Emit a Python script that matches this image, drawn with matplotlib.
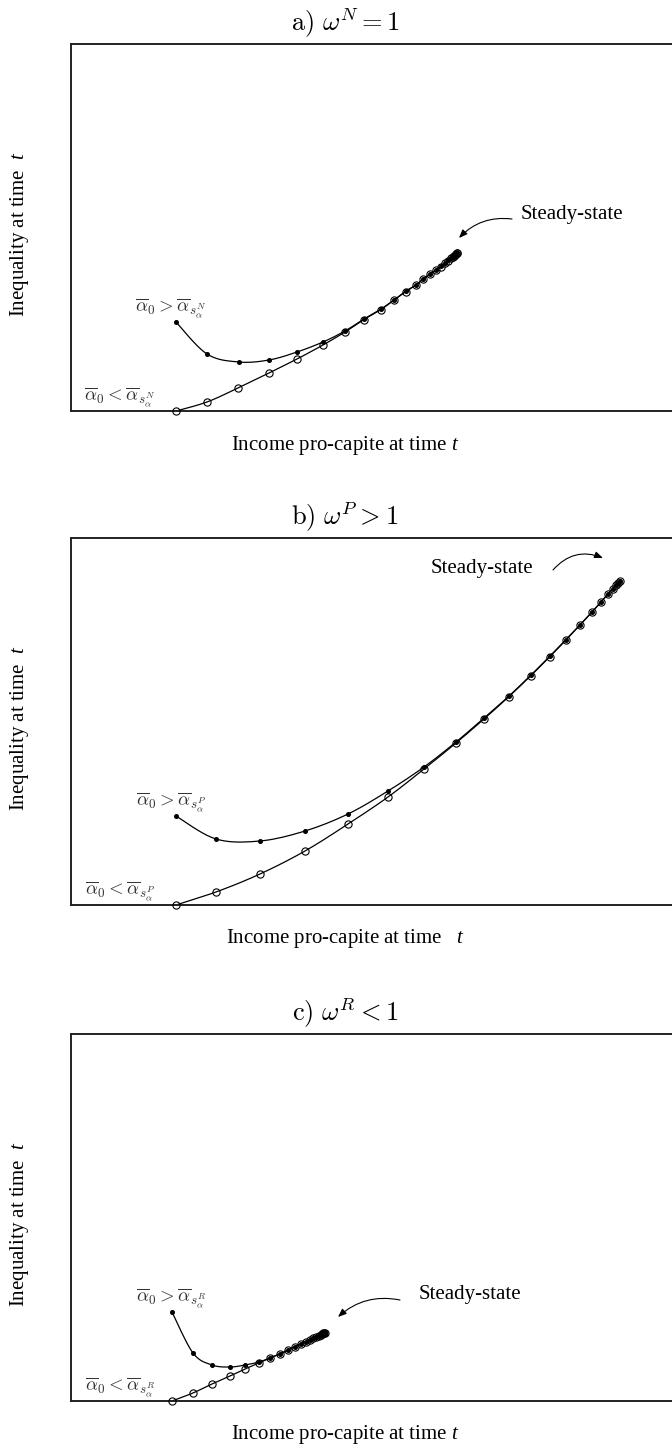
import matplotlib
matplotlib.use("Agg")
import matplotlib.pyplot as plt
import numpy as np

plt.rcParams['font.family'] = ['Liberation Serif', 'DejaVu Serif']
plt.rcParams['mathtext.fontset'] = 'custom'
plt.rcParams['mathtext.rm'] = 'Liberation Serif'
plt.rcParams['mathtext.it'] = 'Liberation Serif:italic'

# ---- data (income, inequality) ----
# panel a) omega^N = 1
a_high_x = [1.05, 1.36, 1.68, 1.98, 2.26, 2.52, 2.74, 2.93, 3.10, 3.23, 3.35, 3.45, 3.52, 3.59, 3.65,
            3.70, 3.74, 3.77, 3.80, 3.815, 3.83, 3.84, 3.85, 3.856, 3.86]
a_high_y = [0.89, 0.57, 0.49, 0.51, 0.59, 0.69, 0.80, 0.92, 1.02, 1.11, 1.20, 1.26, 1.32, 1.37, 1.41,
            1.45, 1.48, 1.51, 1.53, 1.544, 1.556, 1.566, 1.572, 1.577, 1.58]
a_low_x = [1.05, 1.36, 1.67, 1.98, 2.26, 2.52, 2.74, 2.93, 3.10, 3.23, 3.35, 3.45, 3.52, 3.59, 3.65,
           3.70, 3.74, 3.77, 3.80, 3.815, 3.83, 3.84, 3.85, 3.856, 3.86]
a_low_y = [0.00, 0.09, 0.23, 0.38, 0.52, 0.66, 0.79, 0.915, 1.015, 1.11, 1.195, 1.26, 1.317, 1.367, 1.407,
           1.445, 1.477, 1.504, 1.526, 1.542, 1.554, 1.564, 1.57, 1.575, 1.578]

# panel b) omega^P > 1
b_high_x = [1.05, 1.45, 1.89, 2.34, 2.77, 3.17, 3.53, 3.85, 4.13, 4.38, 4.60, 4.79, 4.95, 5.09,
            5.21, 5.30, 5.37, 5.42, 5.45, 5.47, 5.485]
b_high_y = [0.89, 0.66, 0.64, 0.74, 0.91, 1.14, 1.38, 1.63, 1.87, 2.09, 2.30, 2.49, 2.655, 2.80,
            2.93, 3.03, 3.11, 3.165, 3.20, 3.22, 3.237]
b_low_x = [1.05, 1.45, 1.89, 2.34, 2.77, 3.17, 3.53, 3.85, 4.13, 4.38, 4.60, 4.79, 4.95, 5.09,
           5.21, 5.30, 5.37, 5.42, 5.45, 5.47, 5.485]
b_low_y = [0.00, 0.13, 0.31, 0.54, 0.81, 1.08, 1.36, 1.62, 1.86, 2.085, 2.295, 2.485, 2.65, 2.80,
           2.93, 3.03, 3.11, 3.165, 3.20, 3.22, 3.237]

# panel c) omega^R < 1
c_high_x = [1.01, 1.22, 1.41, 1.59, 1.74, 1.88, 1.99, 2.09, 2.17, 2.235, 2.295, 2.345, 2.385, 2.42,
            2.45, 2.475, 2.495, 2.51, 2.52, 2.53, 2.535]
c_high_y = [0.89, 0.48, 0.36, 0.34, 0.36, 0.39, 0.43, 0.47, 0.51, 0.542, 0.57, 0.594, 0.612, 0.629,
            0.643, 0.655, 0.664, 0.671, 0.676, 0.681, 0.683]
c_low_x = [1.01, 1.22, 1.41, 1.59, 1.74, 1.88, 1.99, 2.09, 2.17, 2.235, 2.295, 2.345, 2.385, 2.42,
           2.45, 2.475, 2.495, 2.51, 2.52, 2.53, 2.535]
c_low_y = [0.00, 0.08, 0.17, 0.25, 0.32, 0.38, 0.43, 0.47, 0.51, 0.542, 0.57, 0.594, 0.612, 0.629,
           0.643, 0.655, 0.664, 0.671, 0.676, 0.681, 0.683]

titles = [r'$\mathrm{a)}\ \omega^N = 1$', r'$\mathrm{b)}\ \omega^P > 1$', r'$\mathrm{c)}\ \omega^R < 1$']
sup = ['N', 'P', 'R']
xlabels = [r'Income pro-capite at time $t$', r'Income pro-capite at time   $t$',
           r'Income pro-capite at time $t$']
ylabel = r'Inequality at time  $t$'


def smooth(x, y, n=10):
    # Catmull-Rom curve through the points, only for drawing the line
    p = np.column_stack([x, y]).astype(float)
    p = np.vstack([p[0], p, p[-1]])
    out = []
    for i in range(1, len(p) - 2):
        p0, p1, p2, p3 = p[i - 1], p[i], p[i + 1], p[i + 2]
        t = np.linspace(0, 1, n, endpoint=False)[:, None]
        c = 0.5 * ((2 * p1) + (-p0 + p2) * t + (2 * p0 - 5 * p1 + 4 * p2 - p3) * t ** 2
                   + (-p0 + 3 * p1 - 3 * p2 + p3) * t ** 3)
        out.append(c)
    out.append(p[-2][None, :])
    out = np.vstack(out)
    return out[:, 0], out[:, 1]


W, H = 672, 1450
fig = plt.figure(figsize=(W / 100, H / 100), dpi=100)

panels = [
    (a_high_x, a_high_y, a_low_x, a_low_y, 411, ((5.01, 1.97), (4.41, 1.92), (3.88, 1.73), 0.25)),
    (b_high_x, b_high_y, b_low_x, b_low_y, 905, ((4.11, 3.37), (4.82, 3.35), (5.32, 3.47), -0.35)),
    (c_high_x, c_high_y, c_low_x, c_low_y, 1401, ((3.99, 1.07), (3.29, 1.01), (2.67, 0.84), 0.25)),
]

for k, (hx, hy, lx, ly, bottom, ann) in enumerate(panels):
    top = bottom - 367
    ax = fig.add_axes([71 / W, 1 - bottom / H, (720 - 71) / W, 367 / H])
    ax.set_xlim(0, 6.49)
    ax.set_ylim(0, 3.67)
    ax.set_xticks([])
    ax.set_yticks([])
    for s in ax.spines.values():
        s.set_linewidth(1.4)
        s.set_color('#222222')

    sx, sy = smooth(hx, hy)
    ax.plot(sx, sy, color='black', lw=0.9, zorder=2)
    sx, sy = smooth(lx, ly)
    ax.plot(sx, sy, color='black', lw=0.9, zorder=2)
    ax.plot(hx, hy, 'o', color='black', ms=2.6, zorder=3, clip_on=False)
    ax.plot(lx, ly, 'o', mfc='none', mec='black', mew=0.8, ms=5.2, zorder=4, clip_on=False)

    ax.text(1.0, 1.03, r'$\overline{\alpha}_0 > \overline{\alpha}_{s_\alpha^%s}$' % sup[k],
            ha='center', va='center', fontsize=13.5, color='#333333', math_fontfamily='cm')
    ax.text(0.49, 0.14, r'$\overline{\alpha}_0 < \overline{\alpha}_{s_\alpha^%s}$' % sup[k],
            ha='center', va='center', fontsize=13.5, color='#333333', math_fontfamily='cm')

    txt, start, tip, rad = ann
    ax.text(txt[0], txt[1], 'Steady-state', ha='center', va='center', fontsize=15)
    ax.annotate('', xy=tip, xytext=start,
                arrowprops=dict(arrowstyle='-|>,head_length=0.5,head_width=0.2', color='black',
                                lw=0.8, connectionstyle='arc3,rad=%s' % rad, shrinkA=0, shrinkB=0))

    fig.text(345 / W, 1 - (top - 22) / H, titles[k], ha='center', va='center', fontsize=19,
             math_fontfamily='cm')
    fig.text(345 / W, 1 - (bottom + 34) / H, xlabels[k], ha='center', va='center', fontsize=15)
    fig.text(20 / W, 1 - (top + 190) / H, ylabel, ha='center', va='center', fontsize=15, rotation=90)

fig.savefig('out.png', dpi=100)
